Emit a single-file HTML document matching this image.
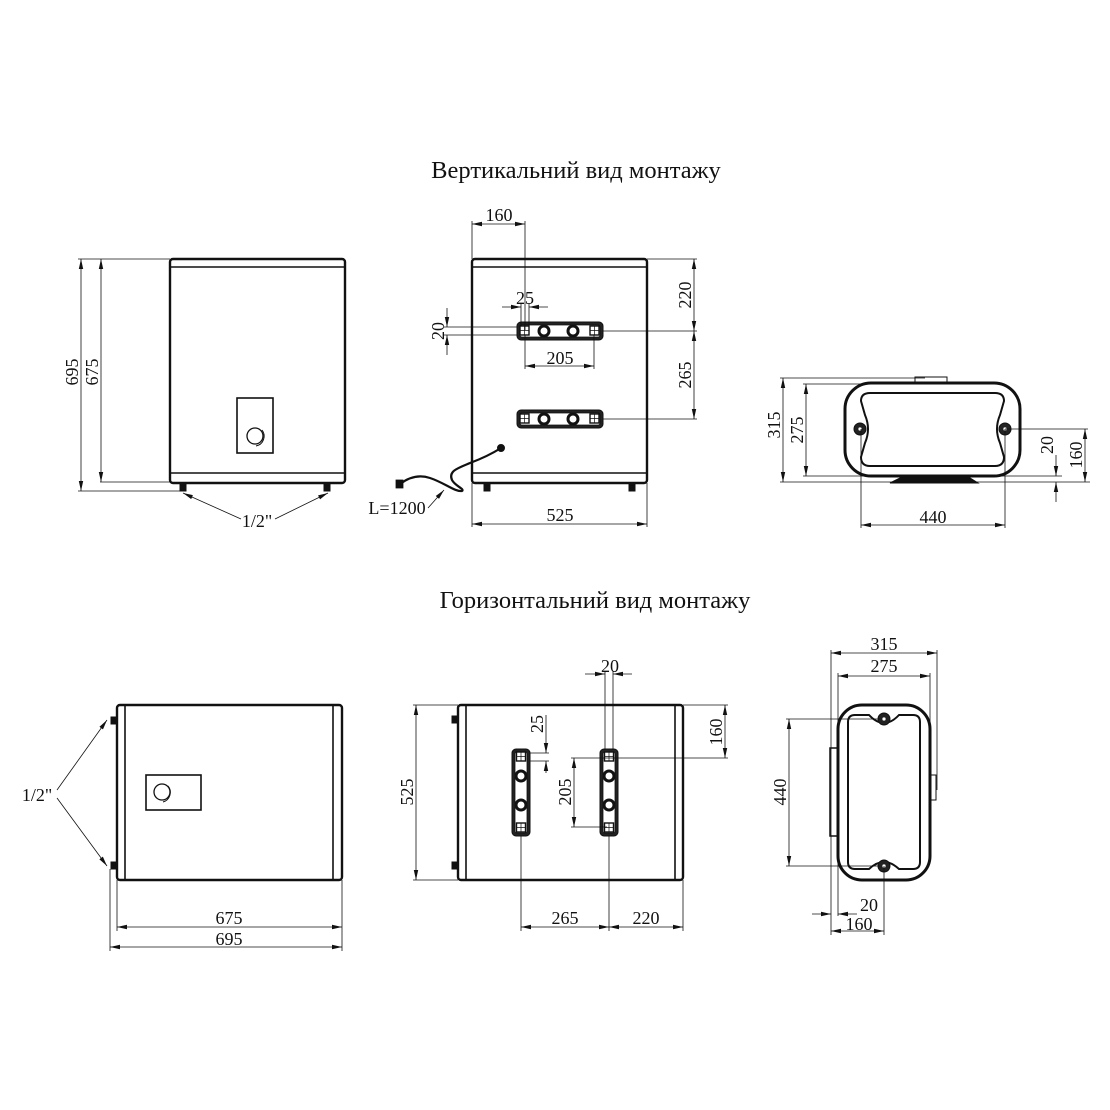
<!DOCTYPE html>
<html><head><meta charset="utf-8"><style>
html,body{margin:0;padding:0;background:#fff}
svg{display:block}
text{font-family:"Liberation Serif",serif;fill:#111}
</style></head><body>
<svg width="1110" height="1110" viewBox="0 0 1110 1110" xmlns="http://www.w3.org/2000/svg">
<defs>
<marker id="a" viewBox="0 0 10 6" refX="10" refY="3" markerWidth="10" markerHeight="6" orient="auto-start-reverse" markerUnits="userSpaceOnUse"><path d="M0,0.8 L10,3 L0,5.2Z" fill="#111"/></marker>
</defs>

<text x="576" y="178" font-size="24.5" text-anchor="middle">Вертикальний вид монтажу</text>
<text x="595" y="608" font-size="24.5" text-anchor="middle">Горизонтальний вид монтажу</text>

<!-- ===== View 1 ===== -->
<g stroke="#111" fill="none">
<rect x="170" y="259" width="175" height="224" rx="3" stroke-width="2.4"/>
<line x1="171" y1="267" x2="344" y2="267" stroke-width="1.6"/>
<line x1="171" y1="473" x2="344" y2="473" stroke-width="1.6"/>
<rect x="237" y="398" width="36" height="55" stroke-width="1.6"/>
<circle cx="255" cy="436" r="8" stroke-width="1.3"/>
<path d="M262,430 A10,10 0 0 1 256,446" stroke-width="1"/>
<rect x="180" y="483" width="6" height="8" fill="#111"/>
<rect x="324" y="483" width="6" height="8" fill="#111"/>
<g stroke-width="0.8">
<line x1="78" y1="259" x2="170" y2="259"/>
<line x1="78" y1="491" x2="180" y2="491"/>
<line x1="100" y1="482" x2="170" y2="482"/>
<line x1="81" y1="259" x2="81" y2="491" marker-start="url(#a)" marker-end="url(#a)"/>
<line x1="101" y1="259" x2="101" y2="482" marker-start="url(#a)" marker-end="url(#a)"/>
<line x1="241" y1="519" x2="183" y2="493" marker-end="url(#a)"/>
<line x1="275" y1="519" x2="328" y2="493" marker-end="url(#a)"/>
</g>
</g>
<text transform="translate(78,372) rotate(-90)" font-size="18" text-anchor="middle">695</text>
<text transform="translate(98,372) rotate(-90)" font-size="18" text-anchor="middle">675</text>
<text x="257" y="527" font-size="18" text-anchor="middle">1/2"</text>

<!-- ===== View 2 ===== -->
<g stroke="#111" fill="none">
<rect x="472" y="259" width="175" height="224" rx="3" stroke-width="2.4"/>
<line x1="473" y1="267" x2="646" y2="267" stroke-width="1.6"/>
<line x1="473" y1="473" x2="646" y2="473" stroke-width="1.6"/>
<rect x="484" y="483" width="6" height="8" fill="#111"/>
<rect x="629" y="483" width="6" height="8" fill="#111"/>
<g id="br">
<rect x="517" y="322" width="86" height="18" rx="4" fill="#222" stroke-width="1"/>
<rect x="520" y="325" width="80" height="12" rx="2" fill="#fff" stroke-width="0.8"/>
<rect x="520" y="326" width="9" height="9" fill="#fff" stroke-width="1.4"/>
<path d="M524.5,326 V335 M520,330.5 H529" stroke-width="0.7"/>
<rect x="590" y="326" width="9" height="9" fill="#fff" stroke-width="1.4"/>
<path d="M594.5,326 V335 M590,330.5 H599" stroke-width="0.7"/>
<circle cx="544" cy="331" r="5" fill="#fff" stroke-width="3"/>
<circle cx="573" cy="331" r="5" fill="#fff" stroke-width="3"/>
</g>
<use href="#br" transform="translate(0,88)"/>
<circle cx="501" cy="448" r="3.5" fill="#111"/>
<path d="M501,448 C490,455 478,460 470,463 C458,468 448,471 452,480 C455,486 465,489 462,491 C455,492 445,483 430,478 C418,474 408,478 400,484" stroke-width="2.2"/>
<rect x="396" y="480" width="7" height="8" fill="#111" stroke-width="0.8"/>
<g stroke-width="0.8">
<line x1="472" y1="221" x2="472" y2="259"/>
<line x1="525" y1="221" x2="525" y2="330"/>
<line x1="472" y1="224" x2="525" y2="224" marker-start="url(#a)" marker-end="url(#a)"/>
<line x1="521" y1="303" x2="521" y2="326"/>
<line x1="529" y1="303" x2="529" y2="326"/>
<line x1="502" y1="307" x2="521" y2="307" marker-end="url(#a)"/>
<line x1="548" y1="307" x2="529" y2="307" marker-end="url(#a)"/>
<line x1="444" y1="327" x2="517" y2="327"/>
<line x1="444" y1="335" x2="517" y2="335"/>
<line x1="447" y1="308" x2="447" y2="327" marker-end="url(#a)"/>
<line x1="447" y1="355" x2="447" y2="335" marker-end="url(#a)"/>
<line x1="525" y1="335" x2="525" y2="369"/>
<line x1="594" y1="335" x2="594" y2="369"/>
<line x1="525" y1="366" x2="594" y2="366" marker-start="url(#a)" marker-end="url(#a)"/>
<line x1="647" y1="259" x2="697" y2="259"/>
<line x1="603" y1="331" x2="697" y2="331"/>
<line x1="603" y1="419" x2="697" y2="419"/>
<line x1="694" y1="259" x2="694" y2="331" marker-start="url(#a)" marker-end="url(#a)"/>
<line x1="694" y1="331" x2="694" y2="419" marker-start="url(#a)" marker-end="url(#a)"/>
<line x1="472" y1="483" x2="472" y2="527"/>
<line x1="647" y1="483" x2="647" y2="527"/>
<line x1="472" y1="524" x2="647" y2="524" marker-start="url(#a)" marker-end="url(#a)"/>
<line x1="428" y1="508" x2="444" y2="490" marker-end="url(#a)"/>
</g>
</g>
<text x="499" y="221" font-size="18" text-anchor="middle">160</text>
<text x="525" y="304" font-size="18" text-anchor="middle">25</text>
<text transform="translate(444,331) rotate(-90)" font-size="18" text-anchor="middle">20</text>
<text x="560" y="364" font-size="18" text-anchor="middle">205</text>
<text transform="translate(691,295) rotate(-90)" font-size="18" text-anchor="middle">220</text>
<text transform="translate(691,375) rotate(-90)" font-size="18" text-anchor="middle">265</text>
<text x="560" y="521" font-size="18" text-anchor="middle">525</text>
<text x="397" y="514" font-size="18" text-anchor="middle">L=1200</text>

<!-- ===== View 3 ===== -->
<g stroke="#111" fill="none">
<rect x="915" y="377" width="32" height="6" stroke-width="1"/>
<rect x="845" y="383" width="175" height="93" rx="26" stroke-width="3"/>
<path d="M870,393 H995 Q1004,393 1004,401 L1000,415 Q994,429 1000,443 L1004,457 Q1004,466 995,466 H870 Q861,466 861,457 L865,443 Q871,429 865,415 L861,401 Q861,393 870,393Z" stroke-width="2"/>
<path d="M890,483 L900,478 L905,476 H965 L970,478 L978,483Z" fill="#111" stroke-width="1"/>
<circle cx="860" cy="429" r="6" fill="#222" stroke-width="1"/>
<circle cx="860" cy="429" r="2" fill="#fff" stroke-width="0.5"/>
<circle cx="1005" cy="429" r="6" fill="#222" stroke-width="1"/>
<circle cx="1005" cy="429" r="2" fill="#fff" stroke-width="0.5"/>
<g stroke-width="0.8">
<line x1="780" y1="378" x2="925" y2="378"/>
<line x1="780" y1="482" x2="1090" y2="482"/>
<line x1="803" y1="384" x2="865" y2="384"/>
<line x1="803" y1="476" x2="1062" y2="476"/>
<line x1="783" y1="378" x2="783" y2="482" marker-start="url(#a)" marker-end="url(#a)"/>
<line x1="806" y1="384" x2="806" y2="476" marker-start="url(#a)" marker-end="url(#a)"/>
<line x1="1005" y1="429" x2="1088" y2="429"/>
<line x1="1085" y1="429" x2="1085" y2="482" marker-start="url(#a)" marker-end="url(#a)"/>
<line x1="1056" y1="455" x2="1056" y2="476" marker-end="url(#a)"/>
<line x1="1056" y1="502" x2="1056" y2="482" marker-end="url(#a)"/>
<line x1="861" y1="429" x2="861" y2="528"/>
<line x1="1005" y1="429" x2="1005" y2="528"/>
<line x1="861" y1="525" x2="1005" y2="525" marker-start="url(#a)" marker-end="url(#a)"/>
</g>
</g>
<text transform="translate(780,425) rotate(-90)" font-size="18" text-anchor="middle">315</text>
<text transform="translate(803,430) rotate(-90)" font-size="18" text-anchor="middle">275</text>
<text transform="translate(1053,445) rotate(-90)" font-size="18" text-anchor="middle">20</text>
<text transform="translate(1082,455) rotate(-90)" font-size="18" text-anchor="middle">160</text>
<text x="933" y="523" font-size="18" text-anchor="middle">440</text>

<!-- ===== View 4 ===== -->
<g stroke="#111" fill="none">
<rect x="117" y="705" width="225" height="175" rx="3" stroke-width="2.4"/>
<line x1="125" y1="706" x2="125" y2="879" stroke-width="1.6"/>
<line x1="333" y1="706" x2="333" y2="879" stroke-width="1.6"/>
<rect x="111" y="717" width="6" height="7" fill="#111"/>
<rect x="111" y="862" width="6" height="7" fill="#111"/>
<rect x="146" y="775" width="55" height="35" stroke-width="1.6"/>
<circle cx="162" cy="792" r="8" stroke-width="1.3"/>
<path d="M168,786 A10,10 0 0 1 163,802" stroke-width="1"/>
<g stroke-width="0.8">
<line x1="57" y1="790" x2="107" y2="720" marker-end="url(#a)"/>
<line x1="57" y1="798" x2="107" y2="866" marker-end="url(#a)"/>
<line x1="110" y1="869" x2="110" y2="951"/>
<line x1="117" y1="880" x2="117" y2="931"/>
<line x1="342" y1="880" x2="342" y2="951"/>
<line x1="117" y1="927" x2="342" y2="927" marker-start="url(#a)" marker-end="url(#a)"/>
<line x1="110" y1="947" x2="342" y2="947" marker-start="url(#a)" marker-end="url(#a)"/>
</g>
</g>
<text x="37" y="801" font-size="18" text-anchor="middle">1/2"</text>
<text x="229" y="924" font-size="18" text-anchor="middle">675</text>
<text x="229" y="945" font-size="18" text-anchor="middle">695</text>

<!-- ===== View 5 ===== -->
<g stroke="#111" fill="none">
<rect x="458" y="705" width="225" height="175" rx="3" stroke-width="2.4"/>
<line x1="466" y1="706" x2="466" y2="879" stroke-width="1.6"/>
<line x1="675" y1="706" x2="675" y2="879" stroke-width="1.6"/>
<rect x="452" y="716" width="6" height="7" fill="#111"/>
<rect x="452" y="862" width="6" height="7" fill="#111"/>
<g id="vb">
<rect x="512" y="749" width="18" height="87" rx="4" fill="#222" stroke-width="1"/>
<rect x="515" y="752" width="12" height="81" rx="2" fill="#fff" stroke-width="0.8"/>
<rect x="516.5" y="752" width="9" height="9" fill="#fff" stroke-width="1.4"/>
<path d="M521,752 V761 M516.5,756.5 H525.5" stroke-width="0.7"/>
<rect x="516.5" y="823" width="9" height="9" fill="#fff" stroke-width="1.4"/>
<path d="M521,823 V832 M516.5,827.5 H525.5" stroke-width="0.7"/>
<circle cx="521" cy="776" r="5" fill="#fff" stroke-width="3"/>
<circle cx="521" cy="805" r="5" fill="#fff" stroke-width="3"/>
</g>
<use href="#vb" transform="translate(88,0)"/>
<g stroke-width="0.8">
<line x1="605" y1="671" x2="605" y2="750"/>
<line x1="613" y1="671" x2="613" y2="750"/>
<line x1="585" y1="674" x2="605" y2="674" marker-end="url(#a)"/>
<line x1="632" y1="674" x2="613" y2="674" marker-end="url(#a)"/>
<line x1="530" y1="753" x2="549" y2="753"/>
<line x1="530" y1="761" x2="549" y2="761"/>
<line x1="546" y1="715" x2="546" y2="753" marker-end="url(#a)"/>
<line x1="546" y1="773" x2="546" y2="761" marker-end="url(#a)"/>
<line x1="571" y1="758" x2="728" y2="758"/>
<line x1="571" y1="827" x2="607" y2="827"/>
<line x1="574" y1="758" x2="574" y2="827" marker-start="url(#a)" marker-end="url(#a)"/>
<line x1="683" y1="705" x2="728" y2="705"/>
<line x1="725" y1="705" x2="725" y2="758" marker-start="url(#a)" marker-end="url(#a)"/>
<line x1="413" y1="705" x2="458" y2="705"/>
<line x1="413" y1="880" x2="458" y2="880"/>
<line x1="416" y1="705" x2="416" y2="880" marker-start="url(#a)" marker-end="url(#a)"/>
<line x1="521" y1="836" x2="521" y2="931"/>
<line x1="609" y1="836" x2="609" y2="931"/>
<line x1="683" y1="880" x2="683" y2="931"/>
<line x1="521" y1="927" x2="609" y2="927" marker-start="url(#a)" marker-end="url(#a)"/>
<line x1="609" y1="927" x2="683" y2="927" marker-start="url(#a)" marker-end="url(#a)"/>
</g>
</g>
<text x="610" y="672" font-size="18" text-anchor="middle">20</text>
<text transform="translate(543,724) rotate(-90)" font-size="18" text-anchor="middle">25</text>
<text transform="translate(571,792) rotate(-90)" font-size="18" text-anchor="middle">205</text>
<text transform="translate(722,732) rotate(-90)" font-size="18" text-anchor="middle">160</text>
<text transform="translate(413,792) rotate(-90)" font-size="18" text-anchor="middle">525</text>
<text x="565" y="924" font-size="18" text-anchor="middle">265</text>
<text x="646" y="924" font-size="18" text-anchor="middle">220</text>

<!-- ===== View 6 ===== -->
<g stroke="#111" fill="none">
<rect x="830" y="748" width="8" height="88" fill="#fff" stroke-width="1.5"/>
<rect x="930" y="775" width="6" height="25" fill="#fff" stroke-width="1"/>
<rect x="838" y="705" width="92" height="175" rx="24" stroke-width="3"/>
<path d="M855,715 H869 Q884,731 899,715 H913 Q920,715 920,722 V862 Q920,869 913,869 H899 Q884,855 869,869 H855 Q848,869 848,862 V722 Q848,715 855,715Z" stroke-width="2"/>
<circle cx="884" cy="719" r="6" fill="#222" stroke-width="1"/>
<circle cx="884" cy="719" r="2" fill="#fff" stroke-width="0.5"/>
<circle cx="884" cy="866" r="6" fill="#222" stroke-width="1"/>
<circle cx="884" cy="866" r="2" fill="#fff" stroke-width="0.5"/>
<g stroke-width="0.8">
<line x1="831" y1="650" x2="831" y2="935"/>
<line x1="937" y1="650" x2="937" y2="790"/>
<line x1="838" y1="673" x2="838" y2="916"/>
<line x1="930" y1="673" x2="930" y2="775"/>
<line x1="831" y1="653" x2="937" y2="653" marker-start="url(#a)" marker-end="url(#a)"/>
<line x1="838" y1="676" x2="930" y2="676" marker-start="url(#a)" marker-end="url(#a)"/>
<line x1="786" y1="719" x2="880" y2="719"/>
<line x1="786" y1="866" x2="880" y2="866"/>
<line x1="789" y1="719" x2="789" y2="866" marker-start="url(#a)" marker-end="url(#a)"/>
<line x1="812" y1="914" x2="831" y2="914" marker-end="url(#a)"/>
<line x1="857" y1="914" x2="838" y2="914" marker-end="url(#a)"/>
<line x1="884" y1="866" x2="884" y2="935"/>
<line x1="831" y1="931" x2="884" y2="931" marker-start="url(#a)" marker-end="url(#a)"/>
</g>
</g>
<text x="884" y="650" font-size="18" text-anchor="middle">315</text>
<text x="884" y="672" font-size="18" text-anchor="middle">275</text>
<text transform="translate(786,792) rotate(-90)" font-size="18" text-anchor="middle">440</text>
<text x="869" y="911" font-size="18" text-anchor="middle">20</text>
<text x="859" y="930" font-size="18" text-anchor="middle">160</text>
</svg>
</body></html>
